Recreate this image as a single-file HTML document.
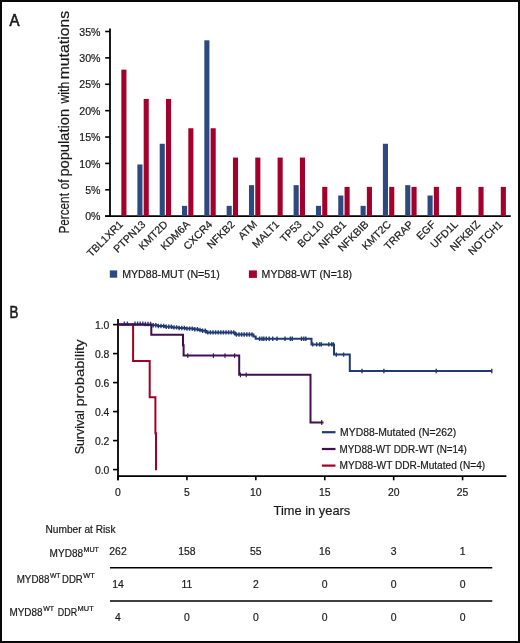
<!DOCTYPE html>
<html><head><meta charset="utf-8"><style>
html,body{margin:0;padding:0;background:#fff;overflow:hidden;width:520px;height:643px;}
#fig{position:relative;width:520px;height:643px;box-sizing:border-box;border:2px solid #080808;background:#fff;overflow:hidden;}
svg{position:absolute;left:0;top:0;}
text{font-family:"Liberation Sans",sans-serif;stroke:#1a1a1a;stroke-width:0.2px;}
</style></head><body>
<div id="fig"></div>
<svg width="520" height="643" viewBox="0 0 520 643" style="position:absolute;left:0;top:0;will-change:transform">
<text x="9.40" y="25.50" font-size="16.0" text-anchor="start" fill="#1a1a1a" textLength="10.0" lengthAdjust="spacingAndGlyphs" style="stroke-width:0.65px">A</text>
<line x1="110.0" y1="28.5" x2="110.0" y2="217" stroke="#000" stroke-width="1.8"/>
<line x1="105.2" y1="216.2" x2="510.8" y2="216.2" stroke="#000" stroke-width="1.8"/>
<line x1="105.2" y1="216.20" x2="110.0" y2="216.20" stroke="#000" stroke-width="1.6"/>
<text x="100.50" y="220.30" font-size="10.6" text-anchor="end" fill="#1a1a1a" >0%</text>
<line x1="105.2" y1="189.81" x2="110.0" y2="189.81" stroke="#000" stroke-width="1.6"/>
<text x="100.50" y="193.91" font-size="10.6" text-anchor="end" fill="#1a1a1a" >5%</text>
<line x1="105.2" y1="163.43" x2="110.0" y2="163.43" stroke="#000" stroke-width="1.6"/>
<text x="100.50" y="167.53" font-size="10.6" text-anchor="end" fill="#1a1a1a" >10%</text>
<line x1="105.2" y1="137.04" x2="110.0" y2="137.04" stroke="#000" stroke-width="1.6"/>
<text x="100.50" y="141.14" font-size="10.6" text-anchor="end" fill="#1a1a1a" >15%</text>
<line x1="105.2" y1="110.66" x2="110.0" y2="110.66" stroke="#000" stroke-width="1.6"/>
<text x="100.50" y="114.76" font-size="10.6" text-anchor="end" fill="#1a1a1a" >20%</text>
<line x1="105.2" y1="84.27" x2="110.0" y2="84.27" stroke="#000" stroke-width="1.6"/>
<text x="100.50" y="88.37" font-size="10.6" text-anchor="end" fill="#1a1a1a" >25%</text>
<line x1="105.2" y1="57.89" x2="110.0" y2="57.89" stroke="#000" stroke-width="1.6"/>
<text x="100.50" y="61.99" font-size="10.6" text-anchor="end" fill="#1a1a1a" >30%</text>
<line x1="105.2" y1="31.50" x2="110.0" y2="31.50" stroke="#000" stroke-width="1.6"/>
<text x="100.50" y="35.60" font-size="10.6" text-anchor="end" fill="#1a1a1a" >35%</text>
<text transform="translate(68.6,233.50) rotate(-90)" font-size="14.4" fill="#1a1a1a" textLength="40.40" lengthAdjust="spacingAndGlyphs">Percent</text>
<text transform="translate(68.6,189.60) rotate(-90)" font-size="14.4" fill="#1a1a1a" textLength="10.20" lengthAdjust="spacingAndGlyphs">of</text>
<text transform="translate(68.6,176.60) rotate(-90)" font-size="14.4" fill="#1a1a1a" textLength="67.70" lengthAdjust="spacingAndGlyphs">population</text>
<text transform="translate(68.6,103.60) rotate(-90)" font-size="14.4" fill="#1a1a1a" textLength="21.80" lengthAdjust="spacingAndGlyphs">with</text>
<text transform="translate(68.6,79.30) rotate(-90)" font-size="14.4" fill="#1a1a1a" textLength="68.40" lengthAdjust="spacingAndGlyphs">mutations</text>
<rect x="121.35" y="69.62" width="5.1" height="146.58" fill="#a3002c"/>
<text transform="translate(123.75,225.00) rotate(-45)" font-size="10.6" text-anchor="end" fill="#1a1a1a">TBL1XR1</text>
<rect x="143.67" y="98.93" width="5.1" height="117.27" fill="#a3002c"/>
<rect x="137.37" y="164.46" width="5.1" height="51.74" fill="#2c4a80"/>
<text transform="translate(146.07,225.00) rotate(-45)" font-size="10.6" text-anchor="end" fill="#1a1a1a">PTPN13</text>
<rect x="165.99" y="98.93" width="5.1" height="117.27" fill="#a3002c"/>
<rect x="159.69" y="143.77" width="5.1" height="72.43" fill="#2c4a80"/>
<text transform="translate(168.39,225.00) rotate(-45)" font-size="10.6" text-anchor="end" fill="#1a1a1a">KMT2D</text>
<rect x="188.31" y="128.25" width="5.1" height="87.95" fill="#a3002c"/>
<rect x="182.01" y="205.85" width="5.1" height="10.35" fill="#2c4a80"/>
<text transform="translate(190.71,225.00) rotate(-45)" font-size="10.6" text-anchor="end" fill="#1a1a1a">KDM6A</text>
<rect x="210.63" y="128.25" width="5.1" height="87.95" fill="#a3002c"/>
<rect x="204.33" y="40.30" width="5.1" height="175.90" fill="#2c4a80"/>
<text transform="translate(213.03,225.00) rotate(-45)" font-size="10.6" text-anchor="end" fill="#1a1a1a">CXCR4</text>
<rect x="232.95" y="157.57" width="5.1" height="58.63" fill="#a3002c"/>
<rect x="226.65" y="205.85" width="5.1" height="10.35" fill="#2c4a80"/>
<text transform="translate(235.35,225.00) rotate(-45)" font-size="10.6" text-anchor="end" fill="#1a1a1a">NFKB2</text>
<rect x="255.27" y="157.57" width="5.1" height="58.63" fill="#a3002c"/>
<rect x="248.97" y="185.16" width="5.1" height="31.04" fill="#2c4a80"/>
<text transform="translate(257.67,225.00) rotate(-45)" font-size="10.6" text-anchor="end" fill="#1a1a1a">ATM</text>
<rect x="277.59" y="157.57" width="5.1" height="58.63" fill="#a3002c"/>
<text transform="translate(279.99,225.00) rotate(-45)" font-size="10.6" text-anchor="end" fill="#1a1a1a">MALT1</text>
<rect x="299.91" y="157.57" width="5.1" height="58.63" fill="#a3002c"/>
<rect x="293.61" y="185.16" width="5.1" height="31.04" fill="#2c4a80"/>
<text transform="translate(302.31,225.00) rotate(-45)" font-size="10.6" text-anchor="end" fill="#1a1a1a">TP53</text>
<rect x="322.23" y="186.88" width="5.1" height="29.32" fill="#a3002c"/>
<rect x="315.93" y="205.85" width="5.1" height="10.35" fill="#2c4a80"/>
<text transform="translate(324.63,225.00) rotate(-45)" font-size="10.6" text-anchor="end" fill="#1a1a1a">BCL10</text>
<rect x="344.55" y="186.88" width="5.1" height="29.32" fill="#a3002c"/>
<rect x="338.25" y="195.51" width="5.1" height="20.69" fill="#2c4a80"/>
<text transform="translate(346.95,225.00) rotate(-45)" font-size="10.6" text-anchor="end" fill="#1a1a1a">NFKB1</text>
<rect x="366.87" y="186.88" width="5.1" height="29.32" fill="#a3002c"/>
<rect x="360.57" y="205.85" width="5.1" height="10.35" fill="#2c4a80"/>
<text transform="translate(369.27,225.00) rotate(-45)" font-size="10.6" text-anchor="end" fill="#1a1a1a">NFKBIB</text>
<rect x="389.19" y="186.88" width="5.1" height="29.32" fill="#a3002c"/>
<rect x="382.89" y="143.77" width="5.1" height="72.43" fill="#2c4a80"/>
<text transform="translate(391.59,225.00) rotate(-45)" font-size="10.6" text-anchor="end" fill="#1a1a1a">KMT2C</text>
<rect x="411.51" y="186.88" width="5.1" height="29.32" fill="#a3002c"/>
<rect x="405.21" y="185.16" width="5.1" height="31.04" fill="#2c4a80"/>
<text transform="translate(413.91,225.00) rotate(-45)" font-size="10.6" text-anchor="end" fill="#1a1a1a">TRRAP</text>
<rect x="433.83" y="186.88" width="5.1" height="29.32" fill="#a3002c"/>
<rect x="427.53" y="195.51" width="5.1" height="20.69" fill="#2c4a80"/>
<text transform="translate(436.23,225.00) rotate(-45)" font-size="10.6" text-anchor="end" fill="#1a1a1a">EGF</text>
<rect x="456.15" y="186.88" width="5.1" height="29.32" fill="#a3002c"/>
<text transform="translate(458.55,225.00) rotate(-45)" font-size="10.6" text-anchor="end" fill="#1a1a1a">UFD1L</text>
<rect x="478.47" y="186.88" width="5.1" height="29.32" fill="#a3002c"/>
<text transform="translate(480.87,225.00) rotate(-45)" font-size="10.6" text-anchor="end" fill="#1a1a1a">NFKBIZ</text>
<rect x="500.79" y="186.88" width="5.1" height="29.32" fill="#a3002c"/>
<text transform="translate(503.19,225.00) rotate(-45)" font-size="10.6" text-anchor="end" fill="#1a1a1a">NOTCH1</text>
<rect x="109.8" y="270.4" width="7.4" height="7.3" fill="#2c4a80"/>
<text x="122.20" y="278.00" font-size="10.7" text-anchor="start" fill="#1a1a1a" textLength="97.5" lengthAdjust="spacingAndGlyphs" >MYD88-MUT (N=51)</text>
<rect x="248.9" y="270.4" width="8.0" height="7.5" fill="#a3002c"/>
<text x="261.60" y="278.00" font-size="10.7" text-anchor="start" fill="#1a1a1a" textLength="90.5" lengthAdjust="spacingAndGlyphs" >MYD88-WT (N=18)</text>
<text x="9.40" y="318.30" font-size="16.3" text-anchor="start" fill="#1a1a1a" textLength="8.9" lengthAdjust="spacingAndGlyphs" style="stroke-width:0.6px">B</text>
<line x1="118" y1="319.1" x2="118" y2="480.3" stroke="#000" stroke-width="1.8"/>
<line x1="117.1" y1="476.2" x2="506.4" y2="476.2" stroke="#000" stroke-width="1.8"/>
<line x1="113" y1="469.60" x2="118" y2="469.60" stroke="#000" stroke-width="1.6"/>
<text x="109.40" y="473.90" font-size="10.4" text-anchor="end" fill="#1a1a1a" >0.0</text>
<line x1="113" y1="440.60" x2="118" y2="440.60" stroke="#000" stroke-width="1.6"/>
<text x="109.40" y="444.90" font-size="10.4" text-anchor="end" fill="#1a1a1a" >0.2</text>
<line x1="113" y1="411.60" x2="118" y2="411.60" stroke="#000" stroke-width="1.6"/>
<text x="109.40" y="415.90" font-size="10.4" text-anchor="end" fill="#1a1a1a" >0.4</text>
<line x1="113" y1="382.60" x2="118" y2="382.60" stroke="#000" stroke-width="1.6"/>
<text x="109.40" y="386.90" font-size="10.4" text-anchor="end" fill="#1a1a1a" >0.6</text>
<line x1="113" y1="353.60" x2="118" y2="353.60" stroke="#000" stroke-width="1.6"/>
<text x="109.40" y="357.90" font-size="10.4" text-anchor="end" fill="#1a1a1a" >0.8</text>
<line x1="113" y1="324.60" x2="118" y2="324.60" stroke="#000" stroke-width="1.6"/>
<text x="109.40" y="328.90" font-size="10.4" text-anchor="end" fill="#1a1a1a" >1.0</text>
<line x1="118.00" y1="476.2" x2="118.00" y2="480.3" stroke="#000" stroke-width="1.6"/>
<text x="118.00" y="495.90" font-size="10.4" text-anchor="middle" fill="#1a1a1a" >0</text>
<line x1="186.92" y1="476.2" x2="186.92" y2="480.3" stroke="#000" stroke-width="1.6"/>
<text x="186.92" y="495.90" font-size="10.4" text-anchor="middle" fill="#1a1a1a" >5</text>
<line x1="255.84" y1="476.2" x2="255.84" y2="480.3" stroke="#000" stroke-width="1.6"/>
<text x="255.84" y="495.90" font-size="10.4" text-anchor="middle" fill="#1a1a1a" >10</text>
<line x1="324.76" y1="476.2" x2="324.76" y2="480.3" stroke="#000" stroke-width="1.6"/>
<text x="324.76" y="495.90" font-size="10.4" text-anchor="middle" fill="#1a1a1a" >15</text>
<line x1="393.68" y1="476.2" x2="393.68" y2="480.3" stroke="#000" stroke-width="1.6"/>
<text x="393.68" y="495.90" font-size="10.4" text-anchor="middle" fill="#1a1a1a" >20</text>
<line x1="462.60" y1="476.2" x2="462.60" y2="480.3" stroke="#000" stroke-width="1.6"/>
<text x="462.60" y="495.90" font-size="10.4" text-anchor="middle" fill="#1a1a1a" >25</text>
<text transform="translate(84.0,454.30) rotate(-90)" font-size="12.8" fill="#1a1a1a" textLength="44.00" lengthAdjust="spacingAndGlyphs">Survival</text>
<text transform="translate(84.0,406.60) rotate(-90)" font-size="12.8" fill="#1a1a1a" textLength="67.30" lengthAdjust="spacingAndGlyphs">probability</text>
<text x="273.50" y="514.80" font-size="13.0" text-anchor="start" fill="#1a1a1a" textLength="76.8" lengthAdjust="spacingAndGlyphs" >Time in years</text>
<path d="M118,324.6 H133.1 V361 H149.7 V397.2 H155.4 V433.3 H156 V470.2" fill="none" stroke="#a00024" stroke-width="2"/>
<path d="M118,324.6 H145 V325.0 H152 V325.3 H158 V326.0 H165 V326.8 H172 V327.4 H179 V328.0 H186 V328.6 H193 V329.2 H198 V330.0 H202 V330.8 H206 V332.4 H235 V334.5 H253.5 V336.5 H255.7 V338.7 H311.5 V344.4 H334 V354.6 H349.8 V371 H492" fill="none" stroke="#1f3b72" stroke-width="2"/>
<path d="M124.4,321.4V325.8 M127.4,321.4V325.8 M135.0,321.4V325.8 M137.6,321.4V325.8 M140.2,321.4V325.8 M142.8,321.4V325.8 M145.4,321.8V326.2 M148.0,321.8V326.2 M150.6,321.8V326.2 M153.2,323.1V327.5 M155.8,323.1V327.5 M158.4,323.8V328.2 M161.0,323.8V328.2 M163.6,323.8V328.2 M166.2,324.6V329.0 M168.8,324.6V329.0 M171.4,324.6V329.0 M174.0,325.2V329.6 M176.6,325.2V329.6 M179.2,325.8V330.2 M181.8,325.8V330.2 M184.4,325.8V330.2 M187.0,326.4V330.8 M189.6,326.4V330.8 M192.2,326.4V330.8 M194.8,327.0V331.4 M197.4,327.0V331.4 M200.0,327.8V332.2 M202.6,328.6V333.0 M205.2,328.6V333.0 M207.8,330.2V334.6 M210.4,330.2V334.6 M213.0,330.2V334.6 M215.6,330.2V334.6 M218.2,330.2V334.6 M220.8,330.2V334.6 M223.4,330.2V334.6 M226.0,330.2V334.6 M228.6,330.2V334.6 M231.2,330.2V334.6 M233.8,330.2V334.6 M236.4,332.3V336.7 M239.0,332.3V336.7 M241.6,332.3V336.7 M244.2,332.3V336.7 M246.8,332.3V336.7 M249.4,332.3V336.7 M252.0,332.3V336.7 M259.6,336.5V340.9 M262.0,336.5V340.9 M263.8,336.5V340.9 M266.3,336.5V340.9 M269.2,336.5V340.9 M272.7,336.5V340.9 M277.0,336.5V340.9 M285.0,336.5V340.9 M290.4,336.5V340.9 M292.3,336.5V340.9 M301.5,336.5V340.9 M303.8,336.5V340.9 M305.8,336.5V340.9 M312.7,342.2V346.6 M316.7,342.2V346.6 M319.6,342.2V346.6 M321.3,342.2V346.6 M328.8,342.2V346.6 M331.7,342.2V346.6 M333.4,342.2V346.6 M336.3,352.4V356.8 M343.6,352.4V356.8 M362.0,368.8V373.2 M383.9,368.8V373.2 M436.2,368.8V373.2 M491.8,368.8V373.2" stroke="#1f3b72" stroke-width="1.4" fill="none"/>
<path d="M118,324.6 H151.3 V334.8 H183 V345.3 H183.6 V355.6 H239.2 V374.8 H310.5 V422.5 H323.5" fill="none" stroke="#420e52" stroke-width="2"/>
<path d="M187.8,353.2V358.0 M213.4,353.2V358.0 M225.0,353.2V358.0 M234.6,353.2V358.0 M240.4,372.4V377.2 M246.2,372.4V377.2 M321.7,420.1V424.9" stroke="#420e52" stroke-width="1.1" fill="none"/>
<line x1="321.9" y1="432.2" x2="335.5" y2="432.2" stroke="#1f3b72" stroke-width="2.2"/>
<text x="340.10" y="436.00" font-size="10.6" text-anchor="start" fill="#1a1a1a" textLength="116.2" lengthAdjust="spacingAndGlyphs" >MYD88-Mutated (N=262)</text>
<line x1="321.9" y1="449.0" x2="335.5" y2="449.0" stroke="#420e52" stroke-width="2.2"/>
<text x="339.50" y="452.80" font-size="10.6" text-anchor="start" fill="#1a1a1a" textLength="127.4" lengthAdjust="spacingAndGlyphs" >MYD88-WT DDR-WT (N=14)</text>
<line x1="321.9" y1="465.6" x2="335.5" y2="465.6" stroke="#a00024" stroke-width="2.2"/>
<text x="339.50" y="469.40" font-size="10.6" text-anchor="start" fill="#1a1a1a" textLength="145.7" lengthAdjust="spacingAndGlyphs" >MYD88-WT DDR-Mutated (N=4)</text>
<text x="45.50" y="533.00" font-size="10.2" text-anchor="start" fill="#1a1a1a" textLength="70" lengthAdjust="spacingAndGlyphs" >Number at Risk</text>
<text x="118.00" y="555.00" font-size="10.4" text-anchor="middle" fill="#1a1a1a" >262</text>
<text x="186.92" y="555.00" font-size="10.4" text-anchor="middle" fill="#1a1a1a" >158</text>
<text x="255.84" y="555.00" font-size="10.4" text-anchor="middle" fill="#1a1a1a" >55</text>
<text x="324.76" y="555.00" font-size="10.4" text-anchor="middle" fill="#1a1a1a" >16</text>
<text x="393.68" y="555.00" font-size="10.4" text-anchor="middle" fill="#1a1a1a" >3</text>
<text x="462.60" y="555.00" font-size="10.4" text-anchor="middle" fill="#1a1a1a" >1</text>
<text x="118.00" y="588.00" font-size="10.4" text-anchor="middle" fill="#1a1a1a" >14</text>
<text x="186.92" y="588.00" font-size="10.4" text-anchor="middle" fill="#1a1a1a" >11</text>
<text x="255.84" y="588.00" font-size="10.4" text-anchor="middle" fill="#1a1a1a" >2</text>
<text x="324.76" y="588.00" font-size="10.4" text-anchor="middle" fill="#1a1a1a" >0</text>
<text x="393.68" y="588.00" font-size="10.4" text-anchor="middle" fill="#1a1a1a" >0</text>
<text x="462.60" y="588.00" font-size="10.4" text-anchor="middle" fill="#1a1a1a" >0</text>
<text x="118.00" y="621.30" font-size="10.4" text-anchor="middle" fill="#1a1a1a" >4</text>
<text x="186.92" y="621.30" font-size="10.4" text-anchor="middle" fill="#1a1a1a" >0</text>
<text x="255.84" y="621.30" font-size="10.4" text-anchor="middle" fill="#1a1a1a" >0</text>
<text x="324.76" y="621.30" font-size="10.4" text-anchor="middle" fill="#1a1a1a" >0</text>
<text x="393.68" y="621.30" font-size="10.4" text-anchor="middle" fill="#1a1a1a" >0</text>
<text x="462.60" y="621.30" font-size="10.4" text-anchor="middle" fill="#1a1a1a" >0</text>
<line x1="110" y1="567.7" x2="492.3" y2="567.7" stroke="#000" stroke-width="1.4"/>
<line x1="110" y1="601.0" x2="492.3" y2="601.0" stroke="#000" stroke-width="1.4"/>
<text x="49.60" y="556.60" font-size="10.2" text-anchor="start" fill="#1a1a1a" textLength="33.5" lengthAdjust="spacingAndGlyphs" >MYD88</text>
<text x="83.40" y="552.10" font-size="6.6" text-anchor="start" fill="#1a1a1a" textLength="15.6" lengthAdjust="spacingAndGlyphs" >MUT</text>
<text x="16.70" y="582.70" font-size="10.2" text-anchor="start" fill="#1a1a1a" textLength="32.7" lengthAdjust="spacingAndGlyphs" >MYD88</text>
<text x="49.90" y="577.90" font-size="6.6" text-anchor="start" fill="#1a1a1a" textLength="10.6" lengthAdjust="spacingAndGlyphs" >WT</text>
<text x="62.00" y="582.70" font-size="10.2" text-anchor="start" fill="#1a1a1a" textLength="20.7" lengthAdjust="spacingAndGlyphs" >DDR</text>
<text x="83.30" y="577.90" font-size="6.6" text-anchor="start" fill="#1a1a1a" textLength="11.5" lengthAdjust="spacingAndGlyphs" >WT</text>
<text x="9.40" y="616.00" font-size="10.2" text-anchor="start" fill="#1a1a1a" textLength="33.1" lengthAdjust="spacingAndGlyphs" >MYD88</text>
<text x="43.20" y="611.00" font-size="6.6" text-anchor="start" fill="#1a1a1a" textLength="10.8" lengthAdjust="spacingAndGlyphs" >WT</text>
<text x="57.80" y="616.00" font-size="10.2" text-anchor="start" fill="#1a1a1a" textLength="19.4" lengthAdjust="spacingAndGlyphs" >DDR</text>
<text x="77.60" y="611.00" font-size="6.6" text-anchor="start" fill="#1a1a1a" textLength="16.1" lengthAdjust="spacingAndGlyphs" >MUT</text>
</svg>
</body></html>
